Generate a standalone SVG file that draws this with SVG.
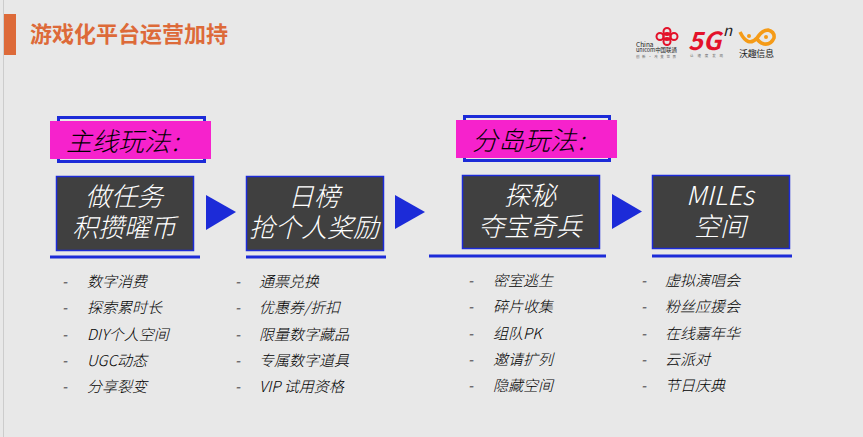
<svg xmlns="http://www.w3.org/2000/svg" width="863" height="437" viewBox="0 0 863 437">
<style>
text{font-family:"Noto Sans CJK SC","Noto Sans",sans-serif}
.box{fill:#404040;stroke:#1c2bd8;stroke-width:1.5}
.frame{fill:none;stroke:#1c2bd8;stroke-width:3}
.tag{fill:#f622cc}
.tagt{font-size:26px;font-style:italic;font-weight:300;fill:#000}
.boxt{font-size:26px;font-style:italic;font-weight:300;fill:#fff;text-anchor:middle}
.li{font-size:15px;font-style:italic;font-weight:300;fill:#000}
.arrow{fill:#1c2bd8}
.ul{stroke:#1c2bd8;stroke-width:3}
</style>
<rect width="863" height="437" fill="#e8e8e8"/>
<rect x="3" y="0" width="1" height="437" fill="#cccccc"/>
<g id="title">
<rect x="4" y="14" width="12" height="41" fill="#dd6a39"/>
<text x="30" y="42" font-size="22" font-weight="700" fill="#dd6a39">游戏化平台运营加持</text>
</g>
<g id="logos">
<g fill="none" stroke="#e3122a" stroke-width="2">
<circle cx="660" cy="36.500" r="3.500"/><circle cx="667" cy="36.500" r="3.500"/><circle cx="674" cy="36.500" r="3.500"/><circle cx="667" cy="31.500" r="3.500"/><circle cx="667" cy="41.500" r="3.500"/>
</g>
<text x="636" y="47" font-size="6.500" fill="#222">China</text>
<text x="636" y="52" font-size="6" fill="#222" textLength="41" lengthAdjust="spacingAndGlyphs">unicom中国联通</text>
<text x="636" y="58" font-size="3.500" fill="#666" textLength="40">创新·改变世界</text>
<text x="688" y="50" font-size="25" font-weight="700" font-style="italic" fill="#e3122a" textLength="33" lengthAdjust="spacingAndGlyphs">5G</text>
<text x="723" y="36" font-size="15" font-style="italic" fill="#222">n</text>
<text x="690" y="57" font-size="3.500" fill="#666" textLength="33">让速度发现</text>
<path d="M740 32Q748 48 757 38Q762 30 768 30Q775 32 774 38Q771 45 764 44Q758 42 757 38" fill="none" stroke="#f59b17" stroke-width="3.500"/>
<circle cx="749" cy="36" r="2" fill="#f59b17"/><circle cx="766" cy="37" r="2" fill="#f59b17"/>
<text x="739" y="57" font-size="9" fill="#222" textLength="35">沃趣信息</text>
</g>
<g id="connectors">
<path class="arrow" d="M206 195V230L236 212Z"/>
<path class="arrow" d="M395 195V229L425 212Z"/>
<path class="arrow" d="M612 194V229L642 211.500Z"/>
</g>
<g id="tag-main">
<rect class="frame" x="58.500" y="117.500" width="146" height="44"/>
<rect class="tag" x="50" y="121" width="161" height="38"/>
<text class="tagt" x="66" y="151">主线玩法<tspan dx="2">:</tspan></text>
</g>
<g id="tag-island">
<rect class="frame" x="464.500" y="116.500" width="145" height="44"/>
<rect class="tag" x="456" y="120" width="161" height="38"/>
<text class="tagt" x="472" y="150">分岛玩法<tspan dx="2">:</tspan></text>
</g>
<g id="node-1">
<rect class="box" x="56.500" y="176.500" width="137" height="74"/>
<text class="boxt" x="124" y="206">做任务</text><text class="boxt" x="124" y="237">积攒曜币</text>
<path class="ul" d="M50 257H200"/>
</g>
<g id="node-2">
<rect class="box" x="246.500" y="176.500" width="137" height="74"/>
<text class="boxt" x="314" y="206">日榜</text><text class="boxt" x="314" y="237">抢个人奖励</text>
<path class="ul" d="M246 257H386"/>
</g>
<g id="node-3">
<rect class="box" x="462.500" y="175.500" width="137" height="73"/>
<text class="boxt" x="530" y="205">探秘</text><text class="boxt" x="530" y="236">夺宝奇兵</text>
<path class="ul" d="M429 256H606"/>
</g>
<g id="node-4">
<rect class="box" x="652.500" y="175.500" width="137" height="73"/>
<text class="boxt" x="720" y="205">MILEs</text><text class="boxt" x="720" y="236">空间</text>
<path class="ul" d="M652 256H792"/>
</g>
<g id="list-1">
<text class="li" x="62" y="287">-</text><text class="li" x="87" y="287">数字消费</text>
<text class="li" x="62" y="313">-</text><text class="li" x="87" y="313">探索累时长</text>
<text class="li" x="62" y="340">-</text><text class="li" x="87" y="340">DIY个人空间</text>
<text class="li" x="62" y="366">-</text><text class="li" x="87" y="366">UGC动态</text>
<text class="li" x="62" y="392">-</text><text class="li" x="87" y="392">分享裂变</text>
</g>
<g id="list-2">
<text class="li" x="235" y="287">-</text><text class="li" x="259" y="287">通票兑换</text>
<text class="li" x="235" y="313">-</text><text class="li" x="259" y="313">优惠券/折扣</text>
<text class="li" x="235" y="340">-</text><text class="li" x="259" y="340">限量数字藏品</text>
<text class="li" x="235" y="366">-</text><text class="li" x="259" y="366">专属数字道具</text>
<text class="li" x="235" y="392">-</text><text class="li" x="259" y="392">VIP 试用资格</text>
</g>
<g id="list-3">
<text class="li" x="468" y="286">-</text><text class="li" x="493" y="286">密室逃生</text>
<text class="li" x="468" y="312">-</text><text class="li" x="493" y="312">碎片收集</text>
<text class="li" x="468" y="339">-</text><text class="li" x="493" y="339">组队PK</text>
<text class="li" x="468" y="365">-</text><text class="li" x="493" y="365">邀请扩列</text>
<text class="li" x="468" y="391">-</text><text class="li" x="493" y="391">隐藏空间</text>
</g>
<g id="list-4">
<text class="li" x="641" y="286">-</text><text class="li" x="665" y="286">虚拟演唱会</text>
<text class="li" x="641" y="312">-</text><text class="li" x="665" y="312">粉丝应援会</text>
<text class="li" x="641" y="339">-</text><text class="li" x="665" y="339">在线嘉年华</text>
<text class="li" x="641" y="365">-</text><text class="li" x="665" y="365">云派对</text>
<text class="li" x="641" y="391">-</text><text class="li" x="665" y="391">节日庆典</text>
</g>
</svg>
